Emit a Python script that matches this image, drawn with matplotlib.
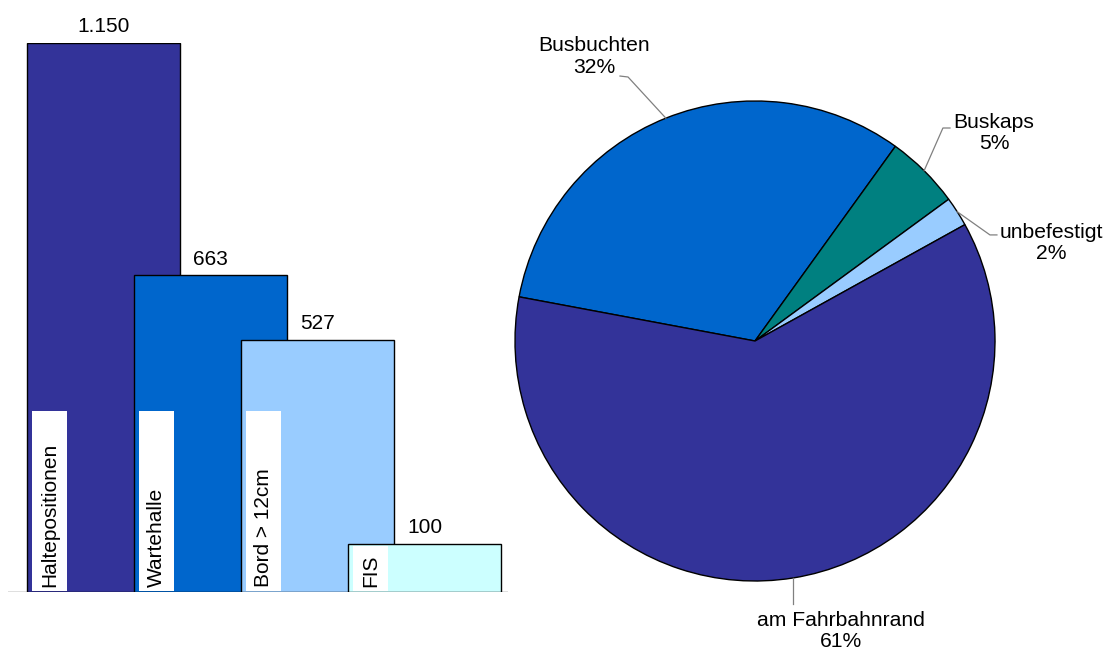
import numpy as np
import matplotlib
matplotlib.use("Agg")
import matplotlib.pyplot as plt
from matplotlib.patches import Rectangle

plt.rcParams['font.family'] = ['Liberation Sans', 'DejaVu Sans']

# Balken: Ausstattung der Haltestellen
bar_labels = ['Haltepositionen', 'Wartehalle', 'Bord > 12cm', 'FIS']
bar_values = [1150, 663, 527, 100]
bar_colors = ['#333399', '#0066CC', '#99CCFF', '#CCFFFF']

# Kreis: Art der Haltestellen (%)
pie_labels = ['Busbuchten', 'Buskaps', 'unbefestigt', 'am Fahrbahnrand']
pie_values = [32, 5, 2, 61]
pie_colors = ['#0066CC', '#008080', '#99CCFF', '#333399']

W, H = 1113, 650
fig = plt.figure(figsize=(W / 100, H / 100), dpi=100)

# --- Balkendiagramm (überlappende Balken) ---
ax = fig.add_axes([8 / W, (H - 592) / H, 500 / W, 549 / H])
x = np.arange(len(bar_values))
bw = 1.43
for i, (v, c, lab) in enumerate(zip(bar_values, bar_colors, bar_labels)):
    ax.bar(x[i], v, width=bw, align='edge', color=c, edgecolor='black',
           linewidth=1, zorder=2 + 2 * i)
    ax.add_patch(Rectangle((x[i] + 0.045, 3), 0.33, min(377, v - 6),
                           facecolor='white', edgecolor='none', zorder=3 + 2 * i))
    ax.text(x[i] + 0.045 + 0.165, 10, lab, rotation=90, ha='center', va='bottom',
            fontsize=15, zorder=3 + 2 * i)
    ax.annotate(f"{v:,}".replace(",", "."), (x[i] + bw / 2, v), xytext=(0, 5),
                textcoords='offset points', ha='center', va='bottom', fontsize=15)
ax.axhline(0, color='#d9d9d9', linewidth=1.2, zorder=1)
ax.set_xlim(-19 / 107, 481 / 107)
ax.set_ylim(0, 1150)
ax.axis('off')

# --- Kreisdiagramm ---
R = 240
pax = fig.add_axes([(755 - 300) / W, (H - 341 - 300) / H, 600 / W, 600 / H])
start = 169.4
wedges, _ = pax.pie(pie_values, colors=pie_colors, startangle=start, counterclock=False,
                    wedgeprops=dict(edgecolor='black', linewidth=1))
pax.set_xlim(-300 / R, 300 / R)
pax.set_ylim(-300 / R, 300 / R)
pax.set_aspect('equal')
pax.axis('off')

# Beschriftungen mit Führungslinien
text_pos = [(-0.671, 1.185), (0.996, 0.867), (1.233, 0.408), (0.36, -1.208)]
elbows = [[(-0.529, 1.10), (-0.5625, 1.104)],
          [(0.783, 0.8875), (0.8125, 0.8875)],
          [(0.979, 0.442), (1.008, 0.442)],
          [(0.16, -1.096)]]
for w, lab, val, tp, el in zip(wedges, pie_labels, pie_values, text_pos, elbows):
    mid = np.deg2rad((w.theta1 + w.theta2) / 2)
    px, py = np.cos(mid), np.sin(mid)
    xs = [px] + [p[0] for p in el]
    ys = [py] + [p[1] for p in el]
    if lab == 'am Fahrbahnrand':
        xs[1] = px
    pax.plot(xs, ys, color='#808080', linewidth=0.9, clip_on=False)
    pax.text(tp[0], tp[1], f"{lab}\n{val}%", ha='center', va='center', fontsize=15.2,
             linespacing=1.17, clip_on=False)

fig.savefig('out.png', dpi=100)
